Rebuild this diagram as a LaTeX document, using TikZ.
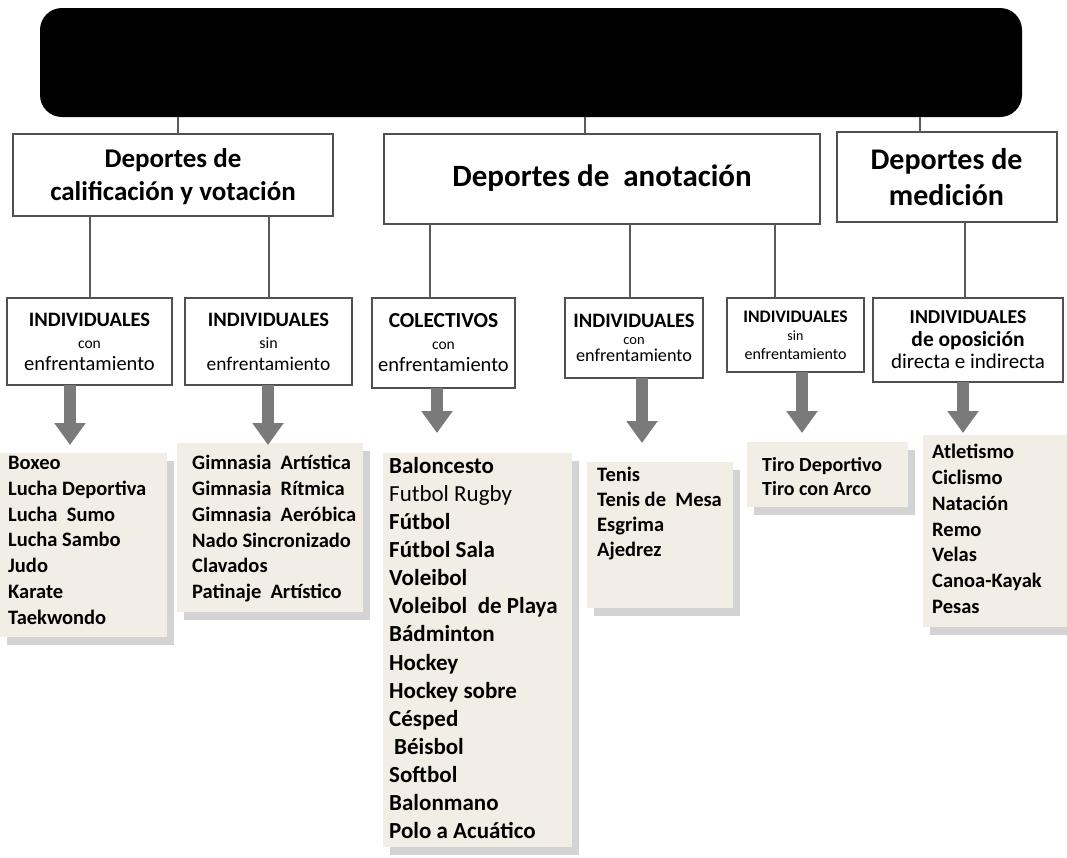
\documentclass[tikz,border=0pt]{standalone}
\usepackage{fontspec}
\setmainfont{Carlito}
\usetikzlibrary{positioning,calc,shadows,arrows.meta}
\definecolor{boxgray}{HTML}{505050}
\definecolor{linegray}{HTML}{5A5A5A}
\definecolor{arrowgray}{HTML}{7A7A7A}
\definecolor{listbeige}{HTML}{F3EEE5}

\begin{document}
\begin{tikzpicture}[x=1pt,y=-1pt]
\tikzstyle{catbox}=[draw=boxgray,line width=2pt,fill=white,outer sep=0pt,inner sep=0pt,align=center]
\tikzstyle{indbox}=[draw=boxgray,line width=2pt,fill=white,outer sep=0pt,inner sep=0pt,align=center]
\tikzstyle{listbox}=[fill=listbeige,draw=none,outer sep=0pt,inner sep=0pt,anchor=north west,drop shadow={shadow xshift=7pt,shadow yshift=-8pt,opacity=0.35}]
\tikzstyle{listtext}=[anchor=north west,inner sep=0pt,align=left,font=\fontsize{20.5}{25.8}\selectfont\bfseries]
\tikzstyle{connector}=[draw=linegray,line width=2pt]
\tikzstyle{bigarrow}=[draw=arrowgray,line width=12pt,-{Triangle[width=30pt,length=22pt]}]

\useasboundingbox (0,0) rectangle (1067,857);

% title bar
\node (title) [fill=black,rounded corners=22pt,minimum width=982pt,minimum height=109pt] at (531,62.5) {};

% main categories
\node (cal) [catbox,minimum width=320pt,minimum height=82pt,text depth=0pt,font=\fontsize{27}{33}\selectfont\bfseries] at (173,175) {Deportes de\\calificación y votación};
\node (ano) [catbox,minimum width=436pt,minimum height=90pt,font=\fontsize{31}{36}\selectfont\bfseries] at (602,178.5) {Deportes de\ \ anotación};
\node (med) [catbox,minimum width=220pt,minimum height=90pt,font=\fontsize{30}{36}\selectfont\bfseries] at (946.5,177) {Deportes de\\medición};

\draw [connector] ($ (cal.north)+(5,0) $) -- ($ (cal.north |- title.south)+(5,0) $);
\draw [connector] ($ (ano.north)+(-17,0) $) -- ($ (ano.north |- title.south)+(-17,0) $);
\draw [connector] ($ (med.north)+(-26.5,0) $) -- ($ (med.north |- title.south)+(-26.5,0) $);

% sub groups
\coordinate (tipA) at (70,445);
\coordinate (tipB) at (268,445);
\coordinate (tipC) at (437,433);
\coordinate (tipD) at (642,443);
\coordinate (tipE) at (802,433);
\coordinate (tipF) at (963,433);

\node (indA) [indbox,minimum width=165pt,minimum height=87pt,font=\fontsize{20.5}{22}\selectfont] at (89.5,341.5) {{\bfseries\fontsize{20.5}{22}\selectfont INDIVIDUALES}\\{\fontsize{15.5}{22}\selectfont con}\\enfrentamiento};
\node (indB) [indbox,minimum width=167pt,minimum height=87pt,font=\fontsize{19.4}{22}\selectfont] at (268.5,341.5) {{\bfseries\fontsize{20.5}{22}\selectfont INDIVIDUALES}\\{\fontsize{16}{22}\selectfont sin}\\enfrentamiento};
\node (indC) [indbox,minimum width=143pt,minimum height=90pt,font=\fontsize{20.5}{22}\selectfont] at (443.5,343) {{\bfseries\fontsize{21.4}{22}\selectfont COLECTIVOS}\\{\fontsize{15.5}{22}\selectfont con}\\enfrentamiento};
\node (indD) [indbox,minimum width=138pt,minimum height=80pt,font=\fontsize{18.2}{17}\selectfont] at (634,338) {{\bfseries\fontsize{20.5}{17}\selectfont INDIVIDUALES}\\{\fontsize{14.5}{17}\selectfont con}\\enfrentamiento};
\node (indE) [indbox,minimum width=137pt,minimum height=74pt,font=\fontsize{16}{18.5}\selectfont] at (795.5,335) {{\bfseries\fontsize{17.6}{18.5}\selectfont INDIVIDUALES}\\{\fontsize{14}{18.5}\selectfont sin}\\enfrentamiento};
\node (indF) [indbox,minimum width=190pt,minimum height=84pt,font=\fontsize{21}{22.5}\selectfont] at (968,340) {{\bfseries\fontsize{19.7}{22.5}\selectfont INDIVIDUALES}\\{\bfseries\fontsize{21.5}{22.5}\selectfont de oposición}\\directa e indirecta};

\draw [connector] (indA.north) -- (indA.north |- cal.south);
\draw [connector] (indB.north) -- (indB.north |- cal.south);
\draw [connector] ($ (indC.north)+(-13.5,0) $) -- ($ (indC.north |- ano.south)+(-13.5,0) $);
\draw [connector] ($ (indD.north)+(-4,0) $) -- ($ (indD.north |- ano.south)+(-4,0) $);
\draw [connector] ($ (indE.north)+(-20.5,0) $) -- ($ (indE.north |- ano.south)+(-20.5,0) $);
\draw [connector] ($ (indF.north)+(-3,0) $) -- ($ (indF.north |- med.south)+(-3,0) $);

% lists
\node (listA) [listbox,minimum width=167pt,minimum height=184pt] at (0,453) {};
\node (listB) [listbox,minimum width=186pt,minimum height=169pt] at (177,443) {};
\node (listC) [listbox,minimum width=189pt,minimum height=394pt] at (383,453) {};
\node (listD) [listbox,minimum width=146pt,minimum height=146pt] at (587,462) {};
\node (listE) [listbox,minimum width=161pt,minimum height=65pt] at (747,442) {};
\node (listF) [listbox,minimum width=144pt,minimum height=192pt] at (923,435) {};

\node (txtA) [listtext] at ([xshift=8pt,yshift=-3pt]listA.north west) {Boxeo\\Lucha Deportiva\\Lucha\ \ Sumo\\Lucha Sambo\\Judo\\Karate\\Taekwondo};
\node (txtB) [listtext] at ([xshift=15pt,yshift=-12pt]listB.north west) {Gimnasia\ \ Artística\\Gimnasia\ \ Rítmica\\Gimnasia\ \ Aeróbica\\Nado Sincronizado\\Clavados\\Patinaje\ \ Artístico};
\node (txtC) [listtext,font=\fontsize{23}{28.1}\selectfont\bfseries] at ([xshift=6pt,yshift=-4pt]listC.north west) {Baloncesto\\{\mdseries Futbol Rugby}\\Fútbol\\Fútbol Sala\\Voleibol\\Voleibol\ \ de Playa\\Bádminton\\Hockey\\Hockey sobre\\Césped\\\hspace*{5pt}Béisbol\\Softbol\\Balonmano\\Polo a Acuático};
\node (txtD) [listtext,font=\fontsize{20.5}{25}\selectfont\bfseries] at ([xshift=10pt,yshift=-5pt]listD.north west) {Tenis\\Tenis de\ \ Mesa\\Esgrima\\Ajedrez};
\node (txtE) [listtext,font=\fontsize{20}{24}\selectfont\bfseries] at ([xshift=15pt,yshift=-15pt]listE.north west) {Tiro Deportivo\\Tiro con Arco};
\node (txtF) [listtext] at ([xshift=9pt,yshift=-9pt]listF.north west) {Atletismo\\Ciclismo\\Natación\\Remo\\Velas\\Canoa-Kayak\\Pesas};

% arrows
\draw [bigarrow] (tipA |- indA.south) -- (tipA);
\draw [bigarrow] (tipB |- indB.south) -- (tipB);
\draw [bigarrow] (tipC |- indC.south) -- (tipC);
\draw [bigarrow] (tipD |- indD.south) -- (tipD);
\draw [bigarrow] (tipE |- indE.south) -- (tipE);
\draw [bigarrow] (tipF |- indF.south) -- (tipF);

\end{tikzpicture}
\end{document}
